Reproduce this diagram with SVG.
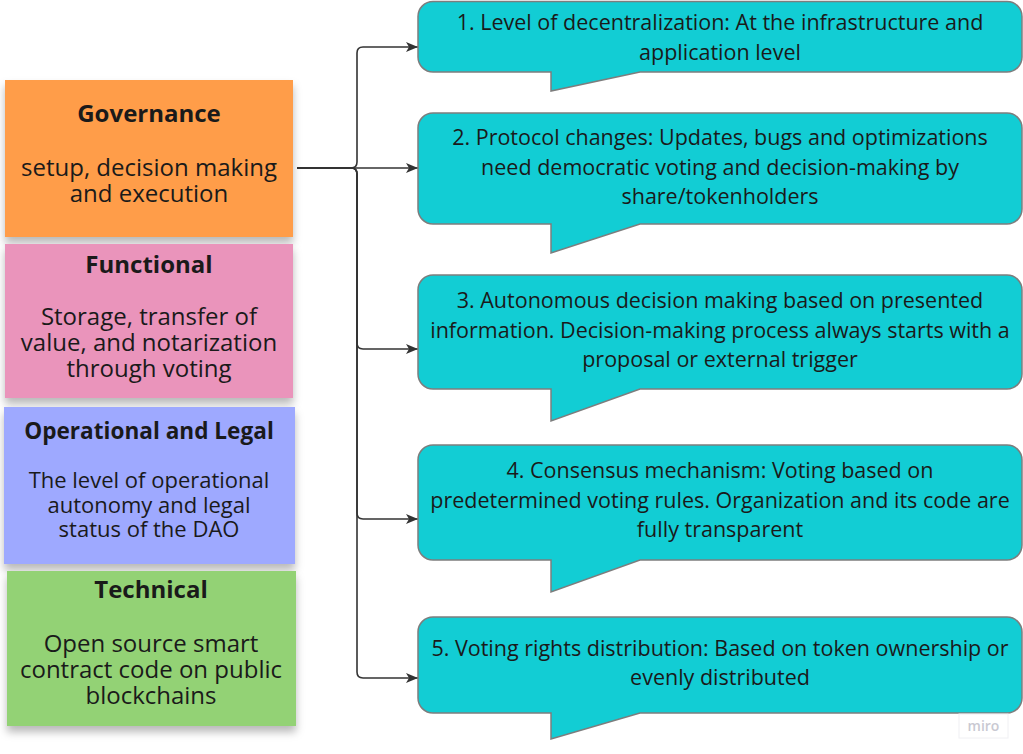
<svg xmlns="http://www.w3.org/2000/svg" width="1023" height="754" viewBox="0 0 1023 754">
<defs>
<style>
.note text{font-family:"Open Sans","Noto Sans",sans-serif;fill:#1a1a1a;text-anchor:middle}
.t{font-weight:700;font-size:24px}
.b{font-size:24px}
.t2{font-weight:700;font-size:22.6px}
.b2{font-size:22px}
.callout path{fill:#12CDD4;stroke:#7d7d7d;stroke-width:1.5}
.callout text{font-family:"Open Sans","Noto Sans",sans-serif;font-size:21.5px;fill:#1a1a1a;text-anchor:middle}
.conn path{fill:none;stroke:#333;stroke-width:1.6}
</style>
<filter id="sh" x="-10%" y="-10%" width="120%" height="130%">
<feDropShadow dx="0" dy="6" stdDeviation="4" flood-color="#000" flood-opacity="0.28"/>
</filter>
<marker id="ah" viewBox="0 0 12 10" refX="12" refY="5" markerWidth="12" markerHeight="10" markerUnits="userSpaceOnUse" orient="auto">
<path d="M0,0 L12,5 L0,10 L3,5 Z" fill="#333"/>
</marker>
</defs>
<rect width="1023" height="754" fill="#fff"/>

<g id="governance" class="note">
<rect x="5" y="80" width="288" height="157" fill="#FF9D48" filter="url(#sh)"/>
<text class="t" x="149" y="122">Governance</text>
<text class="b" x="149" y="176">setup, decision making</text>
<text class="b" x="149" y="202">and execution</text>
</g>

<g id="functional" class="note">
<rect x="5" y="244" width="288" height="154" fill="#EA94BB" filter="url(#sh)"/>
<text class="t" x="149" y="273">Functional</text>
<text class="b" x="149" y="325">Storage, transfer of</text>
<text class="b" x="149" y="351">value, and notarization</text>
<text class="b" x="149" y="377">through voting</text>
</g>

<g id="operational" class="note">
<rect x="4" y="407" width="291" height="157" fill="#9EA9FF" filter="url(#sh)"/>
<text class="t2" x="149" y="439">Operational and Legal</text>
<text class="b2" x="149" y="488">The level of operational</text>
<text class="b2" x="149" y="512.5">autonomy and legal</text>
<text class="b2" x="149" y="537">status of the DAO</text>
</g>

<g id="technical" class="note">
<rect x="7" y="571" width="289" height="155" fill="#93D275" filter="url(#sh)"/>
<text class="t" x="151" y="598">Technical</text>
<text class="b" x="151" y="652">Open source smart</text>
<text class="b" x="151" y="677.5">contract code on public</text>
<text class="b" x="151" y="703.5">blockchains</text>
</g>

<g id="connectors" class="conn">
<path d="M297,168 H351 Q357,168 357,162 V53 Q357,47 363,47 H418" marker-end="url(#ah)"/>
<path d="M297,168 H418" marker-end="url(#ah)"/>
<path d="M297,168 H351 Q357,168 357,174 V343 Q357,349 363,349 H418" marker-end="url(#ah)"/>
<path d="M297,168 H351 Q357,168 357,174 V513 Q357,519 363,519 H418" marker-end="url(#ah)"/>
<path d="M297,168 H351 Q357,168 357,174 V672 Q357,678 363,678 H418" marker-end="url(#ah)"/>
</g>

<g id="c1" class="callout">
<path d="M433,1.5 H1007 A15,15 0 0 1 1022,16.5 V57 A15,15 0 0 1 1007,72 H640 L551,91 V72 H433 A15,15 0 0 1 418,57 V16.5 A15,15 0 0 1 433,1.5 Z"/>
<text x="720" y="30">1. Level of decentralization: At the infrastructure and</text>
<text x="720" y="59.5">application level</text>
</g>

<g id="c2" class="callout">
<path d="M433,113 H1007 A15,15 0 0 1 1022,128 V209 A15,15 0 0 1 1007,224 H640 L551,253 V224 H433 A15,15 0 0 1 418,209 V128 A15,15 0 0 1 433,113 Z"/>
<text x="720" y="145">2. Protocol changes: Updates, bugs and optimizations</text>
<text x="720" y="174.5">need democratic voting and decision-making by</text>
<text x="720" y="204">share/tokenholders</text>
</g>

<g id="c3" class="callout">
<path d="M433,275 H1007 A15,15 0 0 1 1022,290 V374 A15,15 0 0 1 1007,389 H640 L551,421 V389 H433 A15,15 0 0 1 418,374 V290 A15,15 0 0 1 433,275 Z"/>
<text x="720" y="308">3. Autonomous decision making based on presented</text>
<text x="720" y="337.5">information. Decision-making process always starts with a</text>
<text x="720" y="367">proposal or external trigger</text>
</g>

<g id="c4" class="callout">
<path d="M433,445 H1007 A15,15 0 0 1 1022,460 V545 A15,15 0 0 1 1007,560 H640 L551,592 V560 H433 A15,15 0 0 1 418,545 V460 A15,15 0 0 1 433,445 Z"/>
<text x="720" y="478">4. Consensus mechanism: Voting based on</text>
<text x="720" y="507.5">predetermined voting rules. Organization and its code are</text>
<text x="720" y="537">fully transparent</text>
</g>

<g id="c5" class="callout">
<path d="M433,617 H1007 A15,15 0 0 1 1022,632 V698 A15,15 0 0 1 1007,713 H640 L551,739 V713 H433 A15,15 0 0 1 418,698 V632 A15,15 0 0 1 433,617 Z"/>
<text x="720" y="655.5">5. Voting rights distribution: Based on token ownership or</text>
<text x="720" y="685">evenly distributed</text>
</g>

<g id="watermark">
<rect x="959" y="714" width="49" height="24" fill="#fff" stroke="#f0f0f3" stroke-width="1"/>
<text x="983.5" y="731" font-family="'Open Sans','Noto Sans',sans-serif" font-size="14" font-weight="600" fill="#c9c9d2" text-anchor="middle">miro</text>
</g>
</svg>
